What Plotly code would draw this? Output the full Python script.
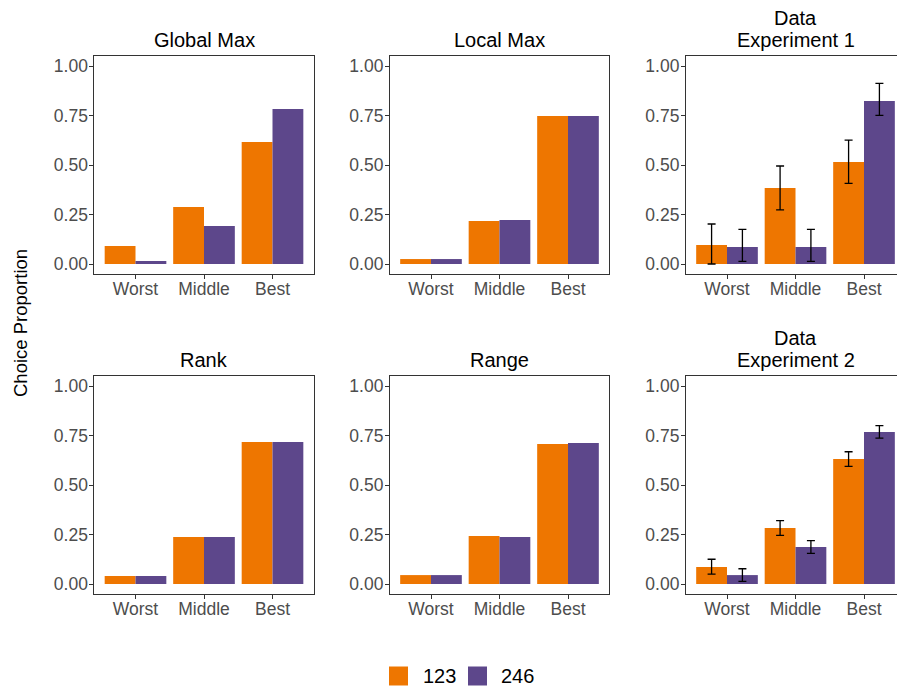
import plotly.graph_objects as go

categories = ["Worst", "Middle", "Best"]
series_names = ["123", "246"]
panel_titles = ["Global Max", "Local Max", "Data<br>Experiment 1",
                "Rank", "Range", "Data<br>Experiment 2"]

global_max_123 = [0.091, 0.288, 0.616]
global_max_246 = [0.015, 0.192, 0.783]
local_max_123 = [0.025, 0.217, 0.747]
local_max_246 = [0.025, 0.222, 0.747]
exp1_123 = [0.096, 0.384, 0.515]
exp1_246 = [0.086, 0.086, 0.823]
exp1_123_upper = [0.202, 0.495, 0.626]
exp1_123_lower = [0.000, 0.273, 0.407]
exp1_246_upper = [0.175, 0.175, 0.912]
exp1_246_lower = [0.013, 0.013, 0.751]
rank_123 = [0.040, 0.237, 0.717]
rank_246 = [0.040, 0.237, 0.717]
range_123 = [0.045, 0.242, 0.707]
range_246 = [0.045, 0.237, 0.712]
exp2_123 = [0.086, 0.283, 0.631]
exp2_246 = [0.045, 0.187, 0.768]
exp2_123_upper = [0.125, 0.320, 0.668]
exp2_123_lower = [0.050, 0.246, 0.594]
exp2_246_upper = [0.077, 0.219, 0.800]
exp2_246_lower = [0.013, 0.155, 0.737]

y_ticks = [0, 0.25, 0.5, 0.75, 1.0]
y_tick_labels = ["0.00", "0.25", "0.50", "0.75", "1.00"]

colors = {"123": "#EE7600", "246": "#5D478B"}

W, H = 897, 690
def px(x):
    return x / W
def py(y):
    return 1 - y / H

unit = 68.5
col_left = [94.4, 389.9, 685.9]
row_top = [56.1, 376.1]
row_bot = [273.9, 593.9]

panels = [
    (global_max_123, global_max_246, None),
    (local_max_123, local_max_246, None),
    (exp1_123, exp1_246, (exp1_123_upper, exp1_123_lower, exp1_246_upper, exp1_246_lower)),
    (rank_123, rank_246, None),
    (range_123, range_246, None),
    (exp2_123, exp2_246, (exp2_123_upper, exp2_123_lower, exp2_246_upper, exp2_246_lower)),
]

fig = go.Figure()
font_family = "Liberation Sans, Arial, sans-serif"
tick_font = dict(size=17.5, color="#4D4D4D", family=font_family)
layout = dict(
    width=W, height=H, autosize=False,
    margin=dict(l=0, r=0, t=0, b=0),
    paper_bgcolor="white", plot_bgcolor="white",
    barmode="group", bargap=0.1, bargroupgap=0,
    showlegend=False,
    font=dict(family=font_family),
)
annotations = []
shapes = []

for i, (v123, v246, err) in enumerate(panels):
    idx = i + 1
    sfx = "" if idx == 1 else str(idx)
    row, col = divmod(i, 3)
    left = col_left[col]
    right = min(left + 3.2 * unit, W)
    xr_max = -0.6 + (right - left) / unit
    for s, vals in zip(series_names, [v123, v246]):
        ey = None
        if err is not None:
            if s == "123":
                up, lo = err[0], err[1]
            else:
                up, lo = err[2], err[3]
            ey = dict(type="data", symmetric=False,
                      array=[u - v for u, v in zip(up, vals)],
                      arrayminus=[v - l for v, l in zip(vals, lo)],
                      color="black", thickness=1.3, width=4)
        fig.add_trace(go.Bar(
            x=categories, y=vals, name=s, marker_color=colors[s],
            marker_line_width=0, error_y=ey,
            xaxis="x" + sfx, yaxis="y" + sfx, offsetgroup=s,
        ))
    layout["xaxis" + sfx] = dict(
        domain=[px(left), px(right)], anchor="y" + sfx,
        range=[-0.6, xr_max], type="category",
        categoryorder="array", categoryarray=categories,
        showline=True, linecolor="#333333", linewidth=1, mirror=True,
        ticks="outside", ticklen=4, tickcolor="#333333", tickwidth=1,
        tickfont=tick_font, ticklabelstandoff=-5,
        showgrid=False, zeroline=False, fixedrange=True,
    )
    layout["yaxis" + sfx] = dict(
        domain=[py(row_bot[row]), py(row_top[row])], anchor="x" + sfx,
        range=[-0.05, 1.05],
        tickmode="array", tickvals=y_ticks, ticktext=y_tick_labels,
        showline=True, linecolor="#333333", linewidth=1,
        mirror=(col != 2),
        ticks="outside", ticklen=4, tickcolor="#333333", tickwidth=1,
        tickfont=tick_font, ticklabelstandoff=-2,
        showgrid=False, zeroline=False, fixedrange=True,
    )
    cx = left + 3.2 * unit / 2
    lines = panel_titles[i].split("<br>")
    n = len(lines)
    for k, line in enumerate(lines):
        cy = row_top[row] - 16 - (n - 1 - k) * 22.5
        annotations.append(dict(
            text=line, x=px(cx), y=py(cy),
            xref="paper", yref="paper", xanchor="center", yanchor="middle",
            showarrow=False, font=dict(size=20, color="black", family=font_family),
        ))

annotations.append(dict(
    text="Choice Proportion", x=px(20), y=py(323), xref="paper", yref="paper",
    xanchor="center", yanchor="middle", textangle=-90, showarrow=False,
    font=dict(size=18.5, color="black", family=font_family),
))

# legend keys
legend_items = [("123", 389, 421), ("246", 468, 499)]
for name, kx, tx in legend_items:
    shapes.append(dict(type="rect", xref="paper", yref="paper",
                       x0=px(kx), x1=px(kx + 19), y0=py(685.5), y1=py(666.5),
                       fillcolor=colors[name], line=dict(width=0)))
    annotations.append(dict(
        text=name, x=px(tx), y=py(676), xref="paper", yref="paper",
        xanchor="left", yanchor="middle", showarrow=False,
        font=dict(size=20, color="black", family=font_family),
    ))

layout["annotations"] = annotations
layout["shapes"] = shapes
fig.update_layout(**layout)
fig.write_html("out.html", config={"displayModeBar": False},
               post_script="document.body.style.margin='0px';document.body.style.overflow='hidden';")
